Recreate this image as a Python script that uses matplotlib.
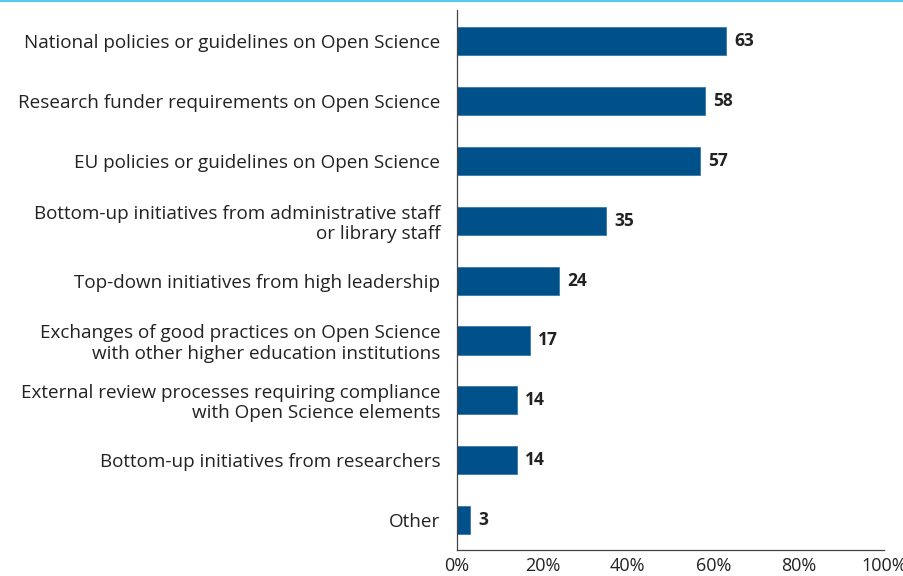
import matplotlib
matplotlib.use("Agg")
import matplotlib.pyplot as plt
from matplotlib.lines import Line2D

categories = [
    "National policies or guidelines on Open Science",
    "Research funder requirements on Open Science",
    "EU policies or guidelines on Open Science",
    "Bottom-up initiatives from administrative staff\nor library staff",
    "Top-down initiatives from high leadership",
    "Exchanges of good practices on Open Science\nwith other higher education institutions",
    "External review processes requiring compliance\nwith Open Science elements",
    "Bottom-up initiatives from researchers",
    "Other",
]
values = [63, 58, 57, 35, 24, 17, 14, 14, 3]
xticks = [0, 20, 40, 60, 80, 100]
xticklabels = ["0%", "20%", "40%", "60%", "80%", "100%"]

bar_color = "#00508A"
text_color = "#222222"
plt.rcParams['font.family'] = ['Open Sans', 'DejaVu Sans']

fig = plt.figure(figsize=(9.04, 5.76), dpi=100)
ax = fig.add_axes([457/904, 1-550/576, (884-457)/904, (550-10)/576])

y = list(range(len(categories)))
ax.barh(y, values, height=0.47, color=bar_color, edgecolor="#3a78a8", linewidth=0.6)
for yi, v in zip(y, values):
    ax.text(v + 1.9, yi, str(v), va="center", ha="left", fontsize=12.5,
            fontweight="bold", color=text_color)

ax.set_xlim(0, 100)
ax.set_ylim(8.5, -0.52)
ax.set_yticks(y)
ax.set_yticklabels(categories, fontsize=13.6, color=text_color, linespacing=1.15)
ax.set_xticks(xticks)
ax.set_xticklabels(xticklabels, fontsize=13, color=text_color)
ax.tick_params(axis="both", length=0)
ax.tick_params(axis="y", pad=12)
ax.tick_params(axis="x", pad=5)
for s in ["top", "right"]:
    ax.spines[s].set_visible(False)
for s in ["left", "bottom"]:
    ax.spines[s].set_color("#444444")
    ax.spines[s].set_linewidth(0.9)

fig.add_artist(Line2D([0, 1], [1 - 1/576, 1 - 1/576], transform=fig.transFigure,
                      color="#5BC8EE", linewidth=1.5))

fig.savefig("out.png", dpi=100)
